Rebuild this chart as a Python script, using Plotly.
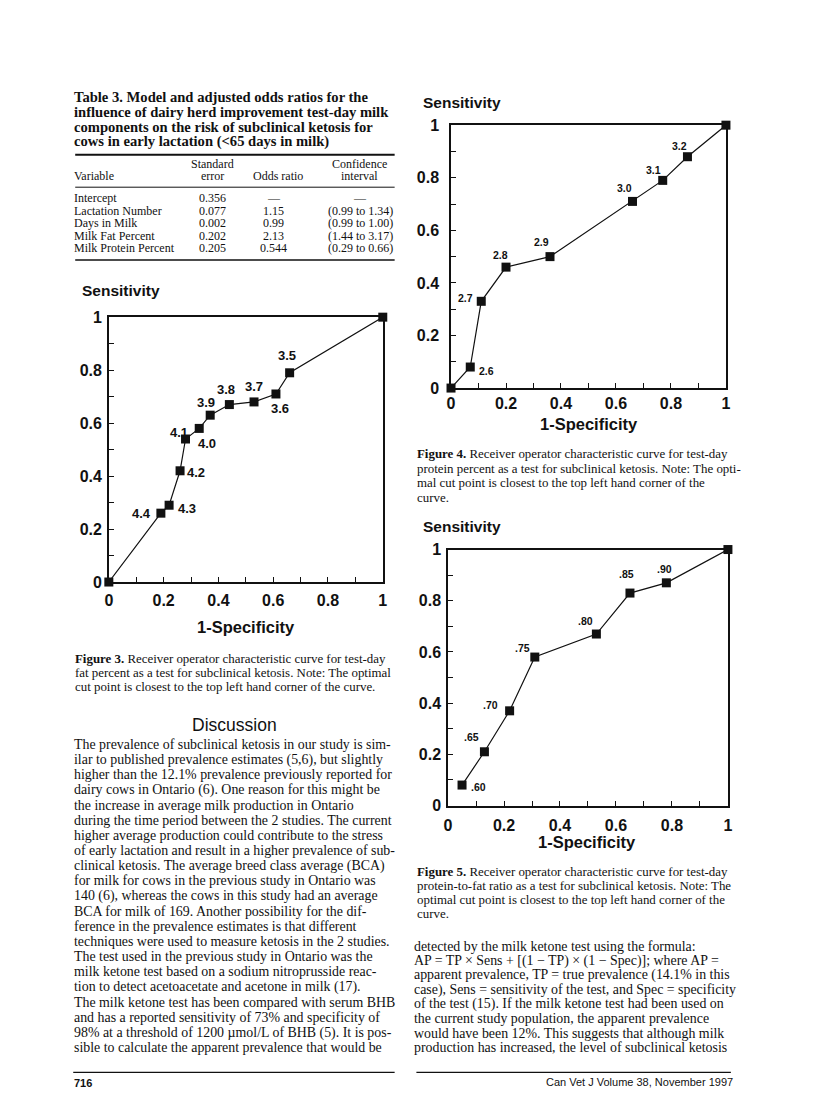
import plotly.graph_objects as go

W, H = 816, 1105

# ---------------- data ----------------
fat_cut = ["", "4.4", "4.3", "4.2", "4.1", "4.0", "3.9", "3.8", "3.7", "3.6", "3.5", ""]
fat_fpr = [0, 0.19, 0.22, 0.26, 0.28, 0.33, 0.37, 0.44, 0.53, 0.61, 0.66, 1]
fat_sens = [0, 0.26, 0.29, 0.42, 0.54, 0.58, 0.63, 0.67, 0.68, 0.71, 0.79, 1]

prot_cut = ["", "2.6", "2.7", "2.8", "2.9", "3.0", "3.1", "3.2", ""]
prot_fpr = [0, 0.07, 0.11, 0.20, 0.36, 0.66, 0.77, 0.86, 1]
prot_sens = [0, 0.08, 0.33, 0.46, 0.50, 0.71, 0.79, 0.88, 1]

ratio_cut = [".60", ".65", ".70", ".75", ".80", ".85", ".90", ""]
ratio_fpr = [0.05, 0.13, 0.22, 0.31, 0.53, 0.65, 0.78, 1]
ratio_sens = [0.08, 0.21, 0.37, 0.58, 0.67, 0.83, 0.87, 1]

tick_vals = [0, 0.1, 0.2, 0.3, 0.4, 0.5, 0.6, 0.7, 0.8, 0.9, 1]
tick_text = ["0", "", "0.2", "", "0.4", "", "0.6", "", "0.8", "", "1"]

table_title = [
    "Table 3. Model and adjusted odds ratios for the",
    "influence of dairy herd improvement test-day milk",
    "components on the risk of subclinical ketosis for",
    "cows in early lactation (<65 days in milk)",
]
table_vars = ["Intercept", "Lactation Number", "Days in Milk", "Milk Fat Percent", "Milk Protein Percent"]
table_se = ["0.356", "0.077", "0.002", "0.202", "0.205"]
table_or = ["—", "1.15", "0.99", "2.13", "0.544"]
table_ci = ["—", "(0.99 to 1.34)", "(0.99 to 1.00)", "(1.44 to 3.17)", "(0.29 to 0.66)"]

cap3 = [
    "<b>Figure 3.</b> Receiver operator characteristic curve for test-day",
    "fat percent as a test for subclinical ketosis. Note: The optimal",
    "cut point is closest to the top left hand corner of the curve.",
]
cap4 = [
    "<b>Figure 4.</b> Receiver operator characteristic curve for test-day",
    "protein percent as a test for subclinical ketosis. Note: The opti-",
    "mal cut point is closest to the top left hand corner of the",
    "curve.",
]
cap5 = [
    "<b>Figure 5.</b> Receiver operator characteristic curve for test-day",
    "protein-to-fat ratio as a test for subclinical ketosis. Note: The",
    "optimal cut point is closest to the top left hand corner of the",
    "curve.",
]

body_left = [
    "The prevalence of subclinical ketosis in our study is sim-",
    "ilar to published prevalence estimates (5,6), but slightly",
    "higher than the 12.1% prevalence previously reported for",
    "dairy cows in Ontario (6). One reason for this might be",
    "the increase in average milk production in Ontario",
    "during the time period between the 2 studies. The current",
    "higher average production could contribute to the stress",
    "of early lactation and result in a higher prevalence of sub-",
    "clinical ketosis. The average breed class average (BCA)",
    "for milk for cows in the previous study in Ontario was",
    "140 (6), whereas the cows in this study had an average",
    "BCA for milk of 169. Another possibility for the dif-",
    "ference in the prevalence estimates is that different",
    "techniques were used to measure ketosis in the 2 studies.",
    "The test used in the previous study in Ontario was the",
    "milk ketone test based on a sodium nitroprusside reac-",
    "tion to detect acetoacetate and acetone in milk (17).",
    "The milk ketone test has been compared with serum BHB",
    "and has a reported sensitivity of 73% and specificity of",
    "98% at a threshold of 1200 µmol/L of BHB (5). It is pos-",
    "sible to calculate the apparent prevalence that would be",
]
body_right = [
    "detected by the milk ketone test using the formula:",
    "AP = TP × Sens + [(1 − TP) × (1 − Spec)]; where AP =",
    "apparent prevalence, TP = true prevalence (14.1% in this",
    "case), Sens = sensitivity of the test, and Spec = specificity",
    "of the test (15). If the milk ketone test had been used on",
    "the current study population, the apparent prevalence",
    "would have been 12%. This suggests that although milk",
    "production has increased, the level of subclinical ketosis",
]

# ---------------- styling / placement ----------------
fat_off = [None, (-19, 0), (18, 3), (16, 2), (-7, -7), (8, 15), (-4, -13), (-3, -15), (0, -15), (4, 15), (-3, -17), None]
prot_off = [None, (16, 4), (-16, -3), (-6, -12), (-8, -15), (-8, -13), (-9, -10), (-8, -11), None]
ratio_off = [(16, 2), (-13, -15), (-19, -6), (-12, -9), (-11, -13), (-3, -19), (-2, -14), None]

SANS = "Liberation Sans, Arial"
SERIF = "Liberation Serif, Times New Roman, serif"
INK = "#111"


def px(x):
    return x / W


def py(y):
    return 1 - y / H


fig = go.Figure()
annotations = []
shapes = []


def text(x, y, s, size, family=SERIF, anchor="left", bold=False):
    shift = {"left": -2, "right": 2, "center": 0}[anchor]
    annotations.append(dict(
        x=px(x), y=py(y), xref="paper", yref="paper", text=s, showarrow=False,
        xanchor=anchor, yanchor="middle", xshift=shift, borderpad=0, borderwidth=0,
        font=dict(family=family, size=size, color=INK, weight="bold" if bold else "normal"),
    ))


def hrule(x0, x1, y, w):
    shapes.append(dict(type="line", xref="paper", yref="paper", x0=px(x0), x1=px(x1),
                       y0=py(y), y1=py(y), line=dict(color=INK, width=w)))


panels = [
    ("x", "y", fat_fpr, fat_sens, fat_cut, fat_off, (106, 383, 314, 583), 13, 2, 3),
    ("x2", "y2", prot_fpr, prot_sens, prot_cut, prot_off, (452, 730, 119, 386), 10.5, 7, 0),
    ("x3", "y3", ratio_fpr, ratio_sens, ratio_cut, ratio_off, (449, 732, 550, 810), 10.5, 2, 5),
]

for i, (xa, ya, xs, ys, labs, offs, box, lsize, ystand, xstand) in enumerate(panels):
    fig.add_trace(go.Scatter(
        x=xs, y=ys, xaxis=xa, yaxis=ya, mode="lines+markers", cliponaxis=False,
        line=dict(color=INK, width=1.2),
        marker=dict(symbol="square", size=9, color=INK),
        showlegend=False, hoverinfo="skip",
    ))
    for xv, yv, lab, off in zip(xs, ys, labs, offs):
        if off is None or not lab:
            continue
        annotations.append(dict(
            x=xv, y=yv, xref=xa, yref=ya, text=lab, showarrow=False,
            xshift=off[0], yshift=-off[1], xanchor="center", yanchor="middle",
            borderpad=0, borderwidth=0,
            font=dict(family=SANS, size=lsize, color=INK, weight="bold"),
        ))
    x0, x1, y0, y1 = box
    sfx = "" if i == 0 else str(i + 1)
    common = dict(range=[0, 1], tickvals=tick_vals, ticktext=tick_text, ticks="inside",
                  ticklen=5, tickwidth=1, tickcolor=INK, showline=True, mirror=True,
                  linecolor=INK, linewidth=1.5, showgrid=False, zeroline=False,
                  tickfont=dict(family=SANS, size=16, color=INK, weight="bold"))
    fig.layout["xaxis" + sfx] = dict(domain=[px(x0), px(x1)], anchor="y" + sfx,
                                     ticklabelstandoff=xstand, **common)
    fig.layout["yaxis" + sfx] = dict(domain=[py(y1), py(y0)], anchor="x" + sfx,
                                     ticklabelstandoff=ystand, **common)

# axis titles
for (sx, sy), (cx, cy) in [((81, 287), (245, 629)), ((426, 96), (592, 422)), ((426, 527), (590, 847))]:
    text(sx, sy, "Sensitivity", 15.5, family=SANS, bold=True)
    text(cx, cy, "1-Specificity", 16.5, family=SANS, anchor="center", bold=True)

# table
for k, line in enumerate(table_title):
    text(73, [90, 106, 121, 136][k], line, 14.6, bold=True)
hrule(72, 395, 149, 2)
text(211, 158, "Standard", 12, anchor="center")
text(211, 171, "error", 12, anchor="center")
text(73, 171, "Variable", 12)
text(277, 171, "Odds ratio", 12, anchor="center")
text(359, 158, "Confidence", 12, anchor="center")
text(359, 171, "interval", 12, anchor="center")
hrule(72, 395, 182, 1)
for k in range(len(table_vars)):
    yy = 193 + k * 12.8
    text(73, yy, table_vars[k], 12)
    text(211, yy, table_se[k], 12, anchor="center")
    text(273, yy, table_or[k], 12, anchor="center")
    text(360, yy, table_ci[k], 12, anchor="center")
hrule(72, 395, 256, 1.5)

# captions
for k, line in enumerate(cap3):
    text(74, 661 + k * 14.2, line, 12.9)
for k, line in enumerate(cap4):
    text(420, 453 + k * 14.8, line, 12.9)
for k, line in enumerate(cap5):
    text(420, 877 + k * 14.5, line, 12.9)

# discussion
text(233, 728, "Discussion", 17.5, family=SANS, anchor="center")
for k, line in enumerate(body_left):
    text(73, 748 + k * 15.4, line, 13.9)
for k, line in enumerate(body_right):
    text(417, 953 + k * 14.7, line, 13.9)

# footer
hrule(70, 395, 1081, 1.2)
hrule(417, 735, 1081, 1.2)
text(73, 1092, "716", 11, family=SANS, bold=True)
text(735, 1091, "Can Vet J Volume 38, November 1997", 11, family=SANS, anchor="right")

fig.update_layout(
    width=W, height=H, margin=dict(l=0, r=0, t=0, b=0),
    paper_bgcolor="white", plot_bgcolor="white",
    annotations=annotations, shapes=shapes, showlegend=False,
)

fig.write_html("out.html", config={"displayModeBar": False},
               post_script="document.body.style.margin='0';")
